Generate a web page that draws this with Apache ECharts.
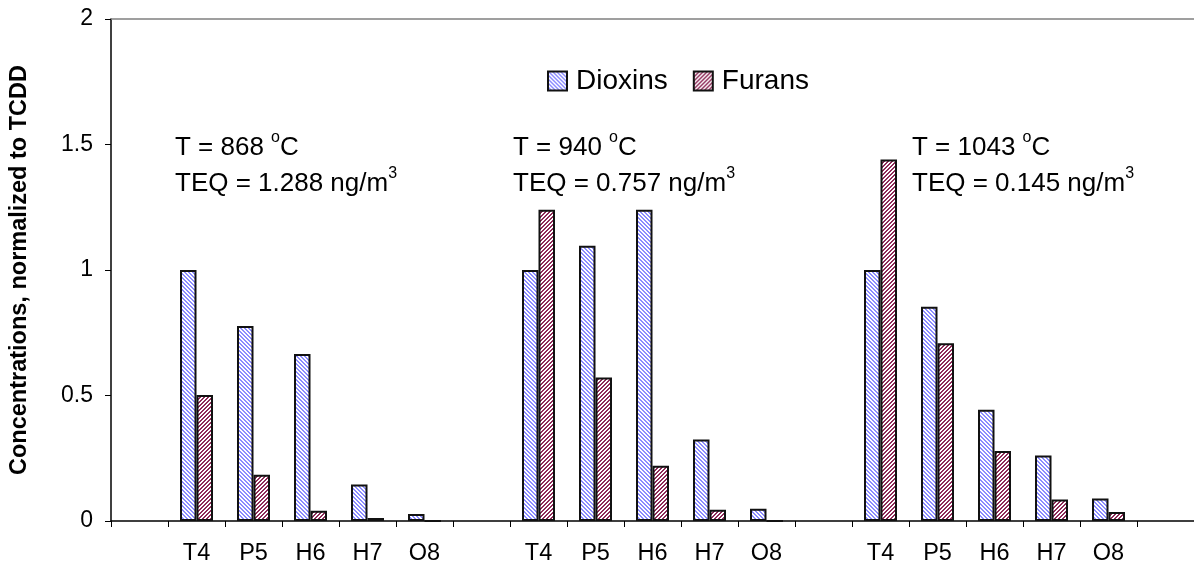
<!DOCTYPE html>
<html>
<head>
<meta charset="utf-8">
<script src="https://cdn.jsdelivr.net/npm/echarts@6/dist/echarts.min.js"></script>
<style>
  html, body { margin: 0; padding: 0; background: #fff; }
  #chart { width: 1194px; height: 568px; }
</style>
</head>
<body>
<div id="chart"></div>
<script>
// Homologue groups, one block of bars per furnace temperature
const congeners = ['T4', 'P5', 'H6', 'H7', 'O8'];
const temperatures = ['868', '940', '1043'];
const teqValues = ['1.288', '0.757', '0.145'];

// Concentrations normalized to TCDD
const dioxins868 = [1.0, 0.777, 0.665, 0.145, 0.028];
const furans868 = [0.502, 0.184, 0.041, 0.012, 0.0];
const dioxins940 = [1.0, 1.097, 1.24, 0.325, 0.049];
const furans940 = [1.24, 0.572, 0.22, 0.045, 0.0];
const dioxins1043 = [1.0, 0.854, 0.443, 0.261, 0.09];
const furans1043 = [1.44, 0.708, 0.279, 0.086, 0.036];

const yTicks = [0, 0.5, 1, 1.5, 2];

// Category axis: an empty slot before, between and after the three blocks
const categories = [''].concat(congeners, [''], congeners, [''], congeners, ['']);
const dioxinsData = [null].concat(dioxins868, [null], dioxins940, [null], dioxins1043, [null]);
const furansData = [null].concat(furans868, [null], furans940, [null], furans1043, [null]);

// Diagonal hatch fills
function hatch(color, downward) {
  const c = document.createElement('canvas');
  c.width = 8; c.height = 8;
  const ctx = c.getContext('2d');
  ctx.fillStyle = '#ffffff';
  ctx.fillRect(0, 0, 8, 8);
  ctx.fillStyle = color;
  for (let x = 0; x < 8; x++) {
    for (let y = 0; y < 8; y++) {
      const k = downward ? ((x - y) % 4 + 4) % 4 : (x + y) % 4;
      if (k < 2) ctx.fillRect(x, y, 1, 1);
    }
  }
  return { image: c, repeat: 'repeat' };
}

const dioxinFill = hatch('#8c8cff', true);
const furanFill = hatch('#8e2a58', false);

const fontFamily = 'Liberation Sans, Arial, sans-serif';

function annotation(x, y, parts) {
  return {
    type: 'text',
    left: x,
    top: y,
    style: {
      text: parts,
      fontFamily: fontFamily,
      fill: '#000',
      rich: {
        a: { fontSize: 26, fontFamily: fontFamily, lineHeight: 31, verticalAlign: 'bottom' },
        s: { fontSize: 16, fontFamily: fontFamily, lineHeight: 31, verticalAlign: 'top' }
      }
    }
  };
}

const annotationX = [175, 513, 912];
const graphics = [];
temperatures.forEach(function (t, i) {
  graphics.push(annotation(annotationX[i], 130, '{a|T = ' + t + ' }{s|o}{a|C}'));
  graphics.push(annotation(annotationX[i], 166, '{a|TEQ = ' + teqValues[i] + ' ng/m}{s|3}'));
});

const chart = echarts.init(document.getElementById('chart'), null, { renderer: 'canvas' });

chart.setOption({
  animation: false,
  backgroundColor: '#ffffff',
  textStyle: { fontFamily: fontFamily },
  grid: { left: 110, top: 19, right: -5.3, bottom: 47, containLabel: false },
  legend: {
    left: 542,
    top: 62,
    itemWidth: 19,
    itemHeight: 19,
    itemGap: 25,
    icon: 'rect',
    textStyle: { fontSize: 28, color: '#000', fontFamily: fontFamily, padding: [0, 0, 0, 4] },
    data: ['Dioxins', 'Furans']
  },
  xAxis: [
    {
      type: 'category',
      data: categories,
      axisLine: { lineStyle: { color: '#000', width: 1.5 } },
      axisTick: { show: true, length: 6, lineStyle: { color: '#000', width: 1 } },
      axisLabel: { fontSize: 23.5, color: '#000', margin: 21, interval: 0, fontFamily: fontFamily },
      splitLine: { show: false }
    },
    {
      type: 'category',
      data: categories,
      position: 'top',
      axisLine: { lineStyle: { color: '#808080', width: 1.5 } },
      axisTick: { show: false },
      axisLabel: { show: false },
      splitLine: { show: false }
    }
  ],
  yAxis: {
    type: 'value',
    min: yTicks[0],
    max: yTicks[yTicks.length - 1],
    interval: 0.5,
    name: 'Concentrations, normalized to TCDD',
    nameLocation: 'middle',
    nameGap: 79,
    nameTextStyle: { fontSize: 23.5, fontWeight: 'bold', color: '#000', fontFamily: fontFamily },
    axisLine: { show: true, lineStyle: { color: '#000', width: 1.5 } },
    axisTick: { show: true, length: 6, lineStyle: { color: '#000', width: 1 } },
    axisLabel: { fontSize: 23, color: '#000', margin: 18, fontFamily: fontFamily },
    splitLine: { show: false }
  },
  series: [
    {
      name: 'Dioxins',
      type: 'bar',
      data: dioxinsData,
      barWidth: 16.5,
      barGap: '0%',
      itemStyle: { color: dioxinFill, borderColor: '#111', borderWidth: 2 }
    },
    {
      name: 'Furans',
      type: 'bar',
      data: furansData,
      barWidth: 16.5,
      barGap: '0%',
      itemStyle: { color: furanFill, borderColor: '#111', borderWidth: 2 }
    }
  ],
  graphic: graphics
});
</script>
</body>
</html>
